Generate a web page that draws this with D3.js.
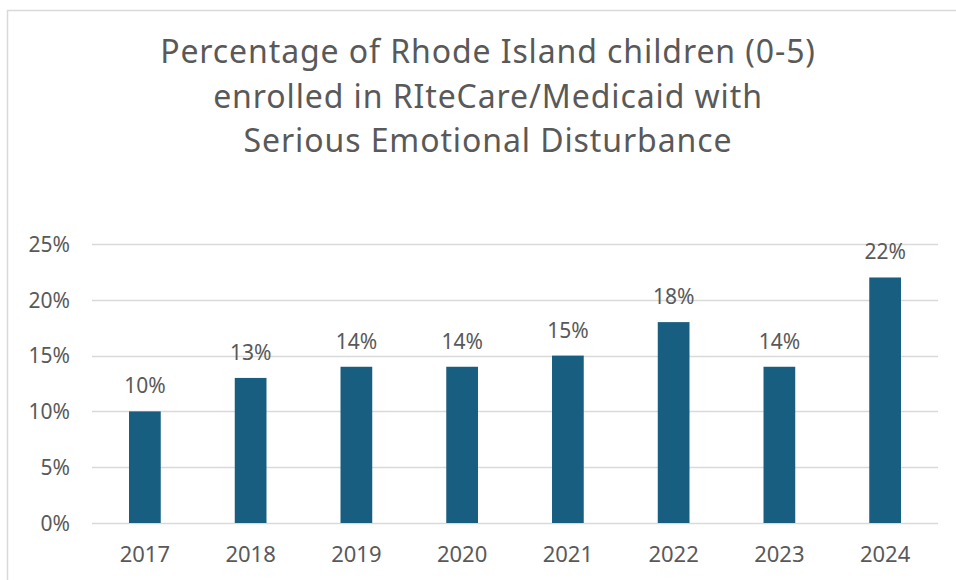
<!DOCTYPE html>
<html><head><meta charset="utf-8">
<script src="https://cdn.jsdelivr.net/npm/d3@7"></script>
<style>html,body{margin:0;padding:0;background:#fff;}svg{display:block;}</style>
</head><body>
<svg id="c" width="956" height="580"></svg>
<script>
const years = ["2017","2018","2019","2020","2021","2022","2023","2024"];
const values = [0.10,0.13,0.14,0.14,0.15,0.18,0.14,0.22];
const yTicks = [0,0.05,0.10,0.15,0.20,0.25];
const titleLines = ["Percentage of Rhode Island children (0-5)","enrolled in RIteCare/Medicaid with","Serious Emotional Disturbance"];

const svg = d3.select("#c");
const font = "'Noto Sans', 'Open Sans', sans-serif";
const textCol = "#595959";

// frame
svg.append("line").attr("x1",7.5).attr("x2",7.5).attr("y1",10).attr("y2",580).attr("stroke","#d9d9d9").attr("stroke-width",1.5);
svg.append("line").attr("x1",7).attr("x2",956).attr("y1",10.5).attr("y2",10.5).attr("stroke","#d9d9d9").attr("stroke-width",1.5);

const x = d3.scaleBand().domain(years).range([92,938]).paddingInner(0.7).paddingOuter(0.35);
const y = d3.scaleLinear().domain([0,0.25]).range([523,244]);

// gridlines
svg.append("g").selectAll("line").data(yTicks).join("line")
  .attr("x1",92).attr("x2",938).attr("y1",d=>Math.round(y(d))+0.5).attr("y2",d=>Math.round(y(d))+0.5)
  .attr("stroke","#d9d9d9").attr("stroke-width",1.3);

// y axis labels
const yAxis = d3.axisLeft(y).tickValues(yTicks).tickFormat(d3.format(".0%")).tickSize(0).tickPadding(0);
const ya = svg.append("g").attr("transform","translate(70,0)").call(yAxis);
ya.select(".domain").remove();
ya.selectAll("text").attr("font-family",font).attr("font-size",21).attr("fill",textCol).attr("dy","0.35em");

// bars
svg.append("g").selectAll("rect").data(values).join("rect")
  .attr("x",(d,i)=>x(years[i])).attr("width",x.bandwidth())
  .attr("y",d=>y(d)).attr("height",d=>y(0)-y(d)).attr("fill","#175e80");

// data labels
svg.append("g").selectAll("text").data(values).join("text")
  .attr("x",(d,i)=>x(years[i])+x.bandwidth()/2).attr("y",d=>y(d)-18)
  .attr("text-anchor","middle").attr("font-family",font).attr("font-size",21).attr("fill",textCol)
  .text(d=>d3.format(".0%")(d));

// x axis labels
const xAxis = d3.axisBottom(x).tickSize(0).tickPadding(0);
const xa = svg.append("g").attr("transform","translate(0,546)").call(xAxis);
xa.select(".domain").remove();
xa.selectAll("text").attr("font-family",font).attr("font-size",22).attr("fill",textCol).attr("dy","0.71em");

// title
svg.append("g").selectAll("text").data(titleLines).join("text")
  .attr("x",488).attr("y",(d,i)=>63+i*44.5).attr("text-anchor","middle")
  .attr("font-family",font).attr("font-size",32).attr("letter-spacing",0.9).attr("fill",textCol).text(d=>d);
</script>
</body></html>
